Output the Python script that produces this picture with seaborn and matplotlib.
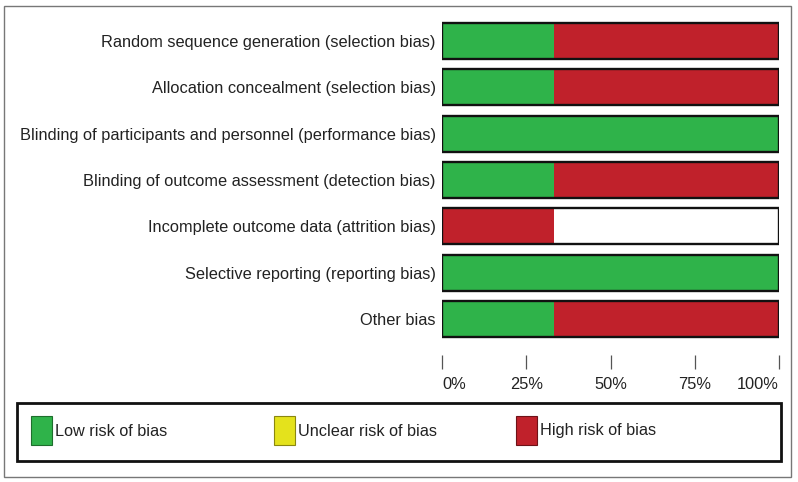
import matplotlib
matplotlib.use("Agg")
import matplotlib.pyplot as plt
import matplotlib.font_manager as fm
from matplotlib.patches import Rectangle
import seaborn as sns
import pandas as pd

# ---- data ----
domains = [
    "Random sequence generation (selection bias)",
    "Allocation concealment (selection bias)",
    "Blinding of participants and personnel (performance bias)",
    "Blinding of outcome assessment (detection bias)",
    "Incomplete outcome data (attrition bias)",
    "Selective reporting (reporting bias)",
    "Other bias",
]
low_risk = [33.3, 33.3, 100.0, 33.3, 0.0, 100.0, 33.3]
unclear_risk = [0.0, 0.0, 0.0, 0.0, 0.0, 0.0, 0.0]
high_risk = [66.7, 66.7, 0.0, 66.7, 33.3, 0.0, 66.7]
tick_values = [0, 25, 50, 75, 100]
tick_labels = ["0%", "25%", "50%", "75%", "100%"]
legend_labels = ["Low risk of bias", "Unclear risk of bias", "High risk of bias"]

GREEN = "#2fb34a"
YELLOW = "#e4e21c"
RED = "#c0212b"

sns.set_theme(style="white")
names = {f.name for f in fm.fontManager.ttflist}
if "Liberation Sans Narrow" in names:
    FONT = "Liberation Sans Narrow"
    LBL, TCK, LEG = 14, 13.5, 13.5
else:
    FONT = "Liberation Sans"
    LBL, TCK, LEG = 11.8, 11.8, 11.7
plt.rcParams["font.family"] = [FONT, "DejaVu Sans"]

W, H = 798, 482
fig = plt.figure(figsize=(W / 100, H / 100), dpi=100)


def fx(px):
    return px / W


def fy(py):
    return 1 - py / H


# axes: x 442..779 ; y 20..355 (pixels from top)
ax = fig.add_axes([fx(442), fy(355), fx(779) - fx(442), (355 - 20) / H])

df = pd.DataFrame({
    "domain": domains,
    "low": low_risk,
    "unclear": unclear_risk,
    "high": high_risk,
})
df["cum_unclear"] = df["low"] + df["unclear"]
df["cum_high"] = df["cum_unclear"] + df["high"]
df["full"] = 100.0

BW = 0.78
# white background bars
sns.barplot(data=df, x="full", y="domain", orient="h", color="white",
            width=BW, linewidth=0, saturation=1, ax=ax)
sns.barplot(data=df, x="cum_high", y="domain", orient="h", color=RED,
            width=BW, linewidth=0, saturation=1, ax=ax)
sns.barplot(data=df, x="cum_unclear", y="domain", orient="h", color=YELLOW,
            width=BW, linewidth=0, saturation=1, ax=ax)
sns.barplot(data=df, x="low", y="domain", orient="h", color=GREEN,
            width=BW, linewidth=0, saturation=1, ax=ax)
# outline bars
sns.barplot(data=df, x="full", y="domain", orient="h", fill=False,
            width=BW, linewidth=1.7, edgecolor="#111111", ax=ax)

spacing = 46.33
ax.set_ylim((355 - 41) / spacing, -(41 - 20) / spacing)
ax.set_xlim(0, 100)
ax.set_xlabel("")
ax.set_ylabel("")
for s in ax.spines.values():
    s.set_visible(False)

ax.set_xticks(tick_values)
ax.set_xticklabels(tick_labels, fontsize=TCK, color="#222222")
ax.tick_params(axis="x", bottom=True, direction="out", length=10, width=0.9,
               color="#555555", pad=5.5)
tl = ax.get_xticklabels()
tl[0].set_horizontalalignment("left")
tl[-1].set_horizontalalignment("right")
ax.tick_params(axis="y", left=False, length=0, pad=4.5, labelsize=LBL,
               labelcolor="#222222")

# outer frame
fig.add_artist(Rectangle((fx(4), fy(477)), fx(791) - fx(4), (477 - 6) / H,
                         transform=fig.transFigure, fill=False,
                         edgecolor="#777777", linewidth=1.0))
# legend box
fig.add_artist(Rectangle((fx(17), fy(461)), fx(781) - fx(17), (461 - 403) / H,
                         transform=fig.transFigure, fill=False,
                         edgecolor="#111111", linewidth=2.0))
leg_colors = [GREEN, YELLOW, RED]
leg_edges = ["#1d6e2c", "#8a8710", "#6e1218"]
patch_x = [31, 274, 516]
text_x = [55, 298, 540]
for c, e, px, tx, lab in zip(leg_colors, leg_edges, patch_x, text_x, legend_labels):
    fig.add_artist(Rectangle((fx(px), fy(445)), 21 / W, 29 / H,
                             transform=fig.transFigure, facecolor=c,
                             edgecolor=e, linewidth=0.8))
    fig.text(fx(tx), fy(431), lab, fontsize=LEG, color="#222222",
             ha="left", va="center")

fig.savefig("out.png", dpi=100)
